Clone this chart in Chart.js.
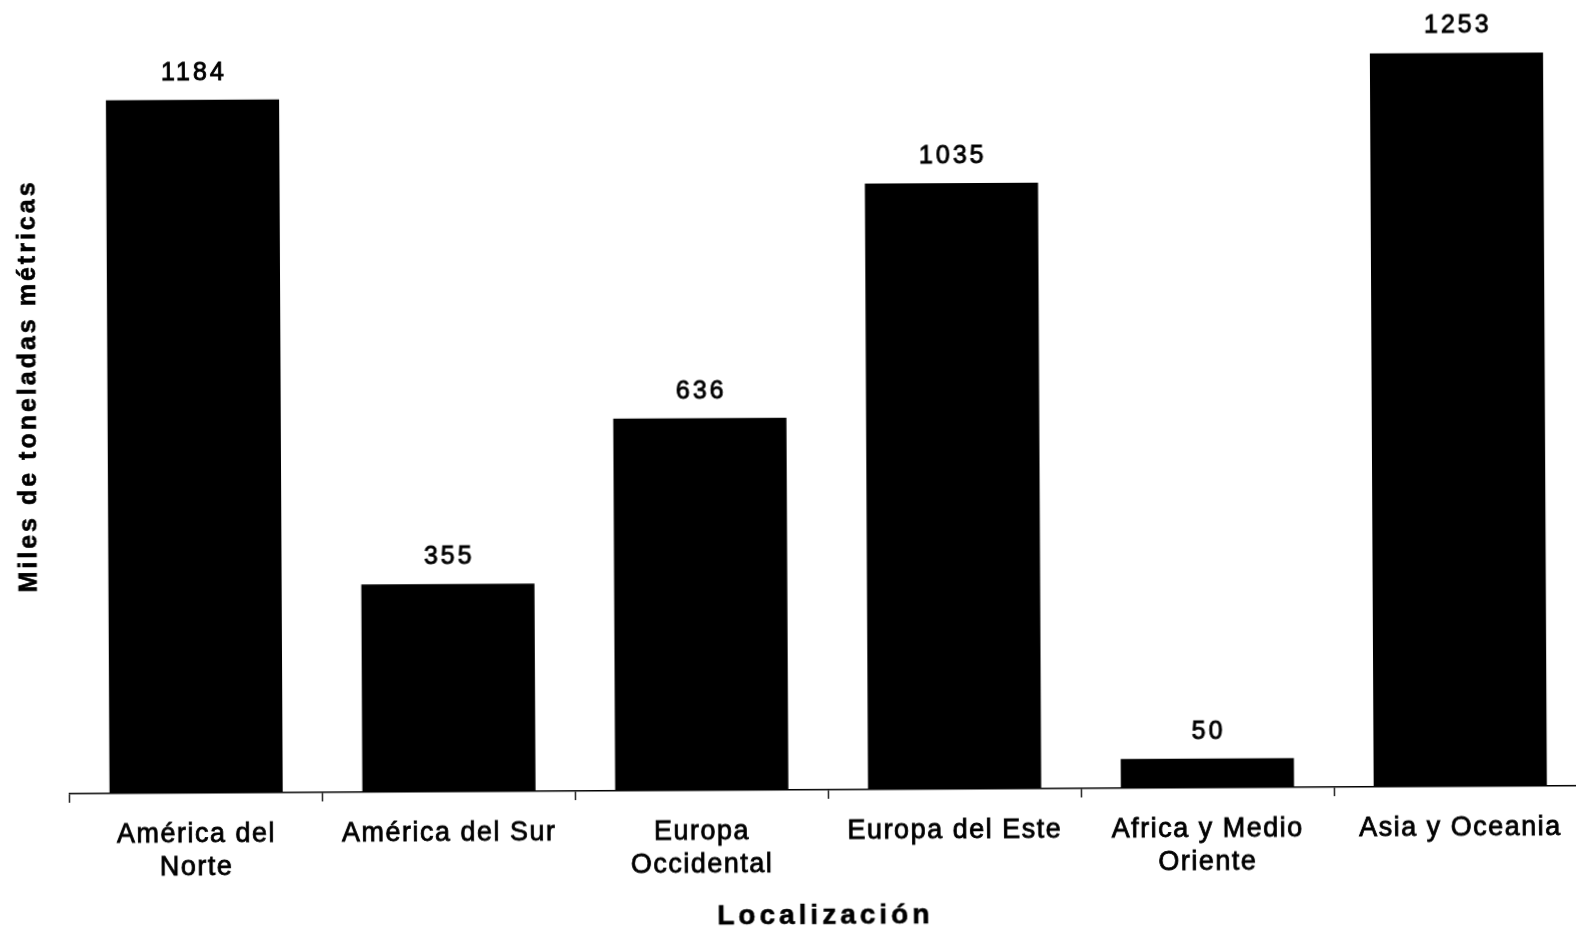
<!DOCTYPE html>
<html lang="es">
<head>
  <meta charset="UTF-8" />
  <title>Miles de toneladas métricas por localización</title>
  <script src="https://cdn.jsdelivr.net/npm/chart.js"></script>
  <style>
    html, body {
      margin: 0;
      padding: 0;
      background: #fff;
      overflow: hidden;
    }
    #wrap {
      position: absolute;
      left: 0;
      top: 0;
      width: 1590px;
      height: 929px;
      transform-origin: 788px 464px;
      transform: rotate(-0.3deg);
    }
  </style>
</head>
<body>
  <div id="wrap">
    <canvas id="barChart" width="1590" height="929"></canvas>
  </div>

  <script>
    // categorías y valores (miles de toneladas métricas)
    const regiones = [
      ['América del', 'Norte'],
      'América del Sur',
      ['Europa', 'Occidental'],
      'Europa del Este',
      ['Africa y Medio', 'Oriente'],
      'Asia y Oceania'
    ];
    const toneladas = [1184, 355, 636, 1035, 50, 1253];

    const FUENTE = '"Liberation Sans", Arial, Helvetica, sans-serif';

    // espaciado de letras para las etiquetas del eje
    const espaciado = {
      id: 'espaciado',
      beforeDraw(chart) { chart.ctx.letterSpacing = '1.5px'; },
      afterDraw(chart) { chart.ctx.letterSpacing = '0px'; }
    };

    function textoGrueso(ctx, txt, x, y, grosor) {
      ctx.lineWidth = grosor;
      ctx.strokeText(txt, x, y);
      ctx.fillText(txt, x, y);
    }

    // valores sobre cada barra
    const valores = {
      id: 'valores',
      afterDatasetsDraw(chart) {
        const ctx = chart.ctx;
        const meta = chart.getDatasetMeta(0);
        ctx.save();
        ctx.letterSpacing = '3px';
        ctx.font = '25px ' + FUENTE;
        ctx.fillStyle = '#000';
        ctx.strokeStyle = '#000';
        ctx.textAlign = 'center';
        ctx.textBaseline = 'middle';
        meta.data.forEach((bar, i) => {
          textoGrueso(ctx, String(toneladas[i]), bar.x + 1.5, bar.y - 27, 0.9);
        });
        ctx.restore();
      }
    };

    // títulos de los ejes
    const titulos = {
      id: 'titulos',
      afterDraw(chart) {
        const ctx = chart.ctx;
        ctx.save();
        ctx.fillStyle = '#000';
        ctx.strokeStyle = '#000';
        ctx.textAlign = 'center';
        ctx.textBaseline = 'middle';

        ctx.letterSpacing = '4px';
        ctx.font = 'bold 28px ' + FUENTE;
        textoGrueso(ctx, 'Localización', 823, 916, 0.6);

        ctx.translate(29, 382);
        ctx.rotate(-Math.PI / 2);
        ctx.letterSpacing = '3px';
        ctx.font = 'bold 25px ' + FUENTE;
        textoGrueso(ctx, 'Miles de toneladas métricas', 0, 0, 0.6);
        ctx.restore();
      }
    };

    const ctx = document.getElementById('barChart').getContext('2d');
    const chart = new Chart(ctx, {
      type: 'bar',
      data: {
        labels: regiones,
        datasets: [{
          data: toneladas,
          backgroundColor: '#000',
          borderWidth: 0,
          categoryPercentage: 1,
          barPercentage: 0.685
        }]
      },
      options: {
        responsive: false,
        animation: false,
        layout: {
          padding: { left: 68, right: 5, top: 26, bottom: 0 }
        },
        plugins: {
          legend: { display: false },
          tooltip: { enabled: false }
        },
        scales: {
          x: {
            offset: true,
            border: { color: '#000', width: 1.6 },
            grid: {
              offset: true,
              drawOnChartArea: false,
              drawTicks: true,
              tickLength: 9,
              color: '#000',
              lineWidth: 1.3
            },
            ticks: {
              color: '#000',
              padding: 16,
              maxRotation: 0,
              autoSkip: false,
              textStrokeColor: '#000',
              textStrokeWidth: 0.8,
              font: { family: FUENTE, size: 27, lineHeight: 1.22 }
            },
            afterFit(scale) { scale.height = 139; }
          },
          y: {
            display: false,
            min: 0,
            max: 1305
          }
        }
      },
      plugins: [espaciado, valores, titulos]
    });
  </script>
</body>
</html>
